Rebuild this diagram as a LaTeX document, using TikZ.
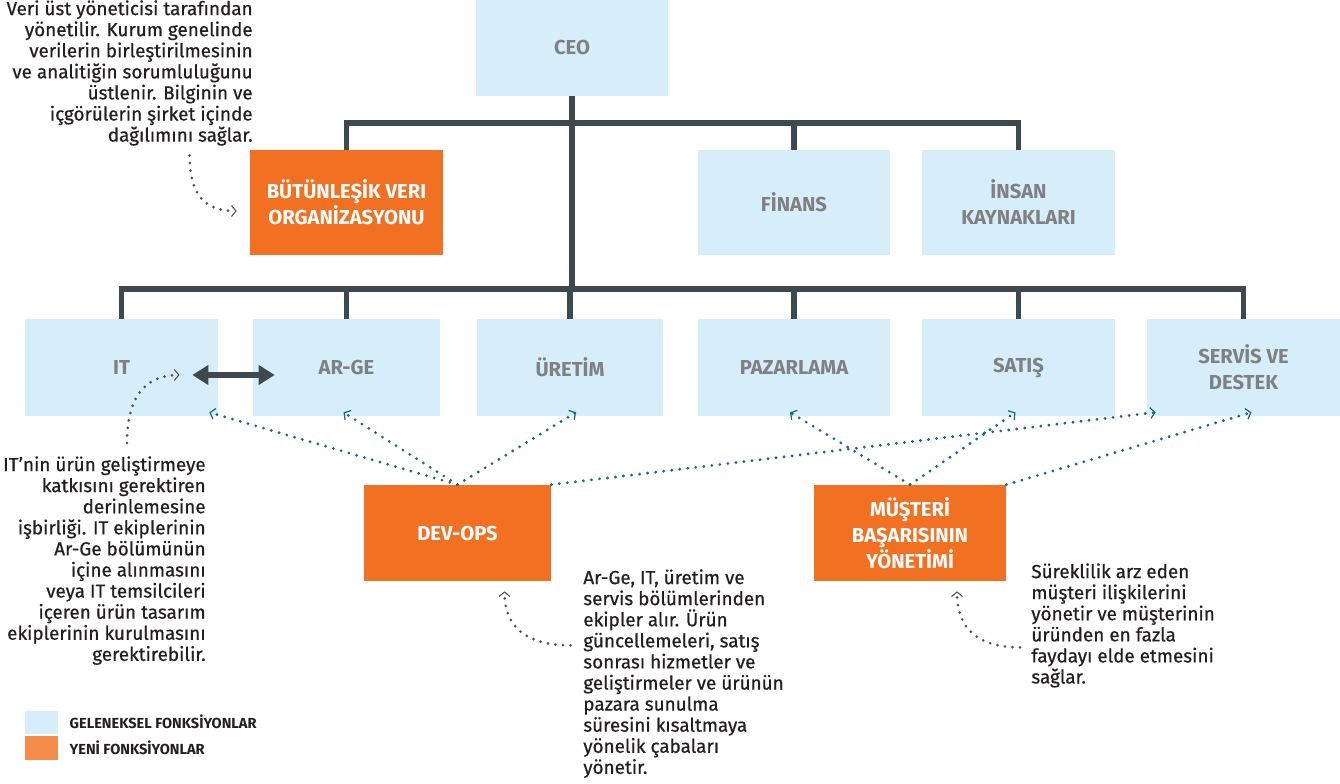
\documentclass[tikz,border=0pt]{standalone}
\usepackage{fontspec}
\setmainfont{Fira Sans}
\newfontfamily\notefamily{Fira Sans}[FakeBold=0.6]
\usepackage{tikz}
\usetikzlibrary{arrows.meta, positioning, calc}
\definecolor{tradblue}{RGB}{214,238,249}
\definecolor{neworange}{RGB}{242,112,34}
\definecolor{legorange}{RGB}{245,139,74}
\definecolor{linedark}{RGB}{62,72,80}
\definecolor{labelgray}{RGB}{128,128,130}
\definecolor{linkteal}{RGB}{22,104,134}
\definecolor{notegray}{RGB}{80,80,80}
\definecolor{notetext}{RGB}{35,31,32}
\newcommand{\boxlabelfont}{\fontsize{11.5}{14.8}\selectfont\bfseries}
\newcommand{\annotfont}{\notefamily\fontsize{10.75}{12}\selectfont}
\newcommand{\legfont}{\fontsize{8.3}{9}\selectfont\bfseries}
\tikzstyle{tradbox} = [rectangle, minimum width=3.86cm, minimum height=1.94cm, inner sep=0pt, fill=tradblue, text=labelgray, font=\boxlabelfont, align=center]
\tikzstyle{newbox} = [rectangle, minimum width=3.74cm, minimum height=1.92cm, inner sep=0pt, fill=neworange, text=white, font=\boxlabelfont, align=center]
\tikzstyle{treeline} = [draw=linedark, line width=3.3pt]
\tikzstyle{teamlink} = [draw=linkteal, line width=1.8pt, line cap=round, dash pattern=on 0pt off 4.6pt, -{Straight Barb[length=0.9mm, width=2.2mm, line width=0.7pt]}]
\tikzstyle{notelink} = [draw=notegray, line width=1.7pt, line cap=round, dash pattern=on 0pt off 4.3pt, -{Straight Barb[length=0.9mm, width=2.2mm, line width=0.6pt]}]
\tikzstyle{bothway} = [draw=linedark, line width=3.4pt, {Triangle[length=3.2mm, width=3.8mm]}-{Triangle[length=3.2mm, width=3.8mm]}]
\tikzstyle{note} = [inner sep=0pt, font=\annotfont, text=notetext]
\tikzstyle{legendsw} = [rectangle, minimum width=0.66cm, minimum height=0.46cm, inner sep=0pt]
\tikzstyle{legendtext} = [inner sep=0pt, font=\legfont, text=notetext]

\begin{document}
\begin{tikzpicture}[x=0.02cm, y=-0.02cm]
\useasboundingbox (0,0) rectangle (1340,784);
\node (ceo) [tradbox, minimum height=1.92cm] at (572,48) {CEO};
\node (veri) [newbox, minimum width=3.86cm, minimum height=2.1cm] at (346.5,202.5) {BÜTÜNLEŞİK VERI\\ORGANİZASYONU};
\node (finans) [tradbox, minimum height=2.1cm] at (794,202.5) {FİNANS};
\node (insan) [tradbox, minimum height=2.1cm] at (1018.5,202.5) {İNSAN\\KAYNAKLARI};
\node (it) [tradbox] at (121.5,367.5) {IT};
\node (arge) [tradbox, minimum width=3.74cm] at (346.5,367.5) {AR-GE};
\node (uretim) [tradbox, minimum width=3.72cm] at (570,367.5) {ÜRETİM};
\node (pazar) [tradbox, minimum width=3.84cm] at (794,367.5) {PAZARLAMA};
\node (satis) [tradbox] at (1018.5,367.5) {SATIŞ};
\node (servis) [tradbox] at (1243.5,367.5) {SERVİS VE\\DESTEK};
\node (devops) [newbox] at (457.5,533) {DEV-OPS};
\node (musteri) [newbox, minimum width=3.84cm] at (910,533) {MÜŞTERİ\\BAŞARISININ\\YÖNETİMİ};
\coordinate (hubtop) at (572,123);
\coordinate (hubmid) at (572,289);
\draw[treeline] (ceo.south) -- (hubmid);
\draw[treeline] (veri.north) |- (hubtop) -| (insan.north);
\draw[treeline] (finans.north) -- (finans.north |- hubtop);
\draw[treeline] (it.north) |- (hubmid) -| (servis.north);
\draw[treeline] (arge.north) -- (arge.north |- hubmid);
\draw[treeline] (uretim.north) -- (uretim.north |- hubmid);
\draw[treeline] (pazar.north) -- (pazar.north |- hubmid);
\draw[treeline] (satis.north) -- (satis.north |- hubmid);
\draw[bothway] ($(it.east)+(-26,7.5)$) -- ($(arge.west)+(22,7.5)$);
\draw[teamlink] (devops.north) -- ($(it.south east)+(-9,-4)$);
\draw[teamlink] (devops.north) -- ($(arge.south)+(-3,-4)$);
\draw[teamlink] (devops.north) -- ($(uretim.south)+(6,-4)$);
\draw[teamlink] (devops.north east) -- ($(servis.south west)+(9,-4)$);
\draw[teamlink] (musteri.north) -- ($(pazar.south)+(-4,-4)$);
\draw[teamlink] (musteri.north) -- ($(satis.south)+(-3,-4)$);
\draw[teamlink] (musteri.north east) -- ($(servis.south)+(8,-4)$);
\node (verinote) [note, align=right, anchor=north east] at (253,0) {Veri üst yöneticisi tarafından\\yönetilir. Kurum genelinde\\verilerin birleştirilmesinin\\ve analitiğin sorumluluğunu\\üstlenir. Bilginin ve\\içgörülerin şirket içinde\\dağılımını sağlar.};
\node (itnote) [note, align=right, anchor=north east] at (206,456) {IT’nin ürün geliştirmeye\\katkısını gerektiren\\derinlemesine\\işbirliği. IT ekiplerinin\\Ar-Ge bölümünün\\içine alınmasını\\veya IT temsilcileri\\içeren ürün tasarım\\ekiplerinin kurulmasını\\gerektirebilir.};
\node (devopsnote) [note, align=left, anchor=north west] at (583,569) {Ar-Ge, IT, üretim ve\\servis bölümlerinden\\ekipler alır. Ürün\\güncellemeleri, satış\\sonrası hizmetler ve\\geliştirmeler ve ürünün\\pazara sunulma\\süresini kısaltmaya\\yönelik çabaları\\yönetir.};
\node (musterinote) [note, align=left, anchor=north west] at (1031,563) {Süreklilik arz eden\\müşteri ilişkilerini\\yönetir ve müşterinin\\üründen en fazla\\faydayı elde etmesini\\sağlar.};
\draw[notelink] ($(veri.west)+(-60,-47)$) .. controls +(0,42) and +(-30,0) .. ($(veri.west)+(-13,8.5)$);
\draw[notelink] ($(it.center)+(5.5,75.5)$) .. controls +(0,-45) and +(-35,0) .. ($(it.center)+(58,7.5)$);
\draw[notelink] ($(devops.south)+(113,64)$) .. controls +(-45,0) and +(0,35) .. ($(devops.south)+(47,10)$);
\draw[notelink] ($(musteri.south)+(110,66)$) .. controls +(-45,0) and +(0,35) .. ($(musteri.south)+(47,10)$);
\node (legtrad) [legendsw, fill=tradblue] at (41.5,722) {};
\node (legnew) [legendsw, fill=legorange, minimum height=0.48cm] at (41.5,748) {};
\node (legtradtext) [legendtext, right=0.22cm of legtrad] {GELENEKSEL FONKSİYONLAR};
\node (legnewtext) [legendtext, right=0.22cm of legnew] {YENİ FONKSİYONLAR};
\end{tikzpicture}
\end{document}
